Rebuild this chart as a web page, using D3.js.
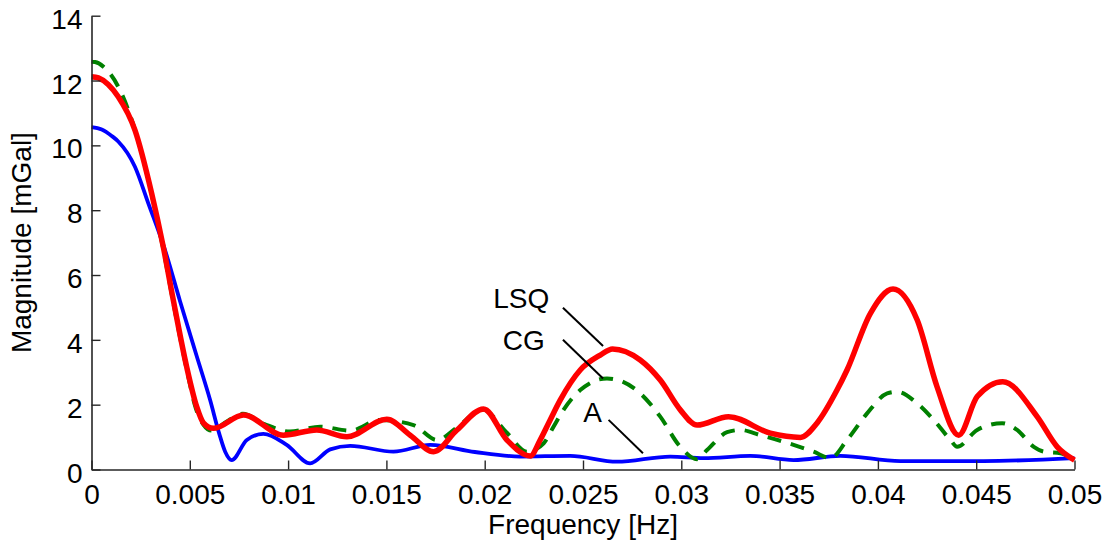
<!DOCTYPE html>
<html>
<head>
<meta charset="utf-8">
<script src="https://cdn.jsdelivr.net/npm/d3@7"></script>
<style>
  body { margin: 0; background: #fff; }
  svg text { font-family: "Liberation Sans", Arial, sans-serif; fill: #000; }
</style>
</head>
<body>
<svg id="chart"></svg>
<script>
// frequency [Hz] / magnitude [mGal]
const lsqFreq = [0, 0.00035, 0.00085, 0.00136, 0.00221, 0.00306, 0.00365, 0.00416, 0.00484, 0.00535, 0.00569, 0.0062,
  0.00773, 0.00976, 0.01146, 0.01299, 0.01502, 0.01621, 0.0174, 0.01859, 0.01994, 0.02113, 0.02232, 0.02282, 0.02333,
  0.02384, 0.02486, 0.02588, 0.0265, 0.02791, 0.02893, 0.02995, 0.0308, 0.0324, 0.03453, 0.03606, 0.0369,
  0.03792, 0.03843, 0.03962, 0.04077, 0.042, 0.04301, 0.04411, 0.04505, 0.04635, 0.0481, 0.04912, 0.05];
const lsqMag = [12.12, 12.08, 11.88, 11.5, 10.47, 8.52, 6.87, 5.23, 3.17, 1.94, 1.44, 1.27,
  1.68, 1.06, 1.22, 1.01, 1.55, 1.06, 0.55, 1.22, 1.87, 0.91, 0.42, 0.91, 1.53,
  2.14, 3.07, 3.53, 3.72, 3.38, 2.76, 1.84, 1.37, 1.63, 1.12, 0.99, 1.43,
  2.45, 3.07, 4.82, 5.57, 4.61, 2.55, 1.06, 2.25, 2.71, 1.63, 0.7, 0.29];

const cgFreq = [0, 0.00018, 0.0006, 0.00136, 0.00205, 0.00306, 0.00365, 0.00416, 0.00484, 0.0053, 0.0057, 0.0061,
  0.0068, 0.0077, 0.0088, 0.0101, 0.01163, 0.01316, 0.01468, 0.01638, 0.01757, 0.0186, 0.0199, 0.0211, 0.02215,
  0.023, 0.0235, 0.02401, 0.02486, 0.02622, 0.02791, 0.02893, 0.02995, 0.0308, 0.03131, 0.03233, 0.033, 0.03402,
  0.03571, 0.03673, 0.03758, 0.03843, 0.03945, 0.04047, 0.04098, 0.042, 0.04284, 0.04369, 0.04403, 0.04505, 0.04632,
  0.04708, 0.04793, 0.04844, 0.04929, 0.05];
const cgMag = [12.58, 12.57, 12.43, 11.81, 10.78, 8.5, 6.8, 5.15, 3.1, 1.9, 1.38, 1.2,
  1.45, 1.72, 1.4, 1.17, 1.32, 1.2, 1.53, 1.37, 0.91, 1.3, 1.85, 1.15, 0.55,
  0.81, 1.32, 1.84, 2.45, 2.81, 2.35, 1.63, 0.7, 0.32, 0.6, 1.15, 1.22, 1.06,
  0.76, 0.55, 0.35, 0.91, 1.73, 2.35, 2.4, 2.04, 1.53, 0.91, 0.7, 1.22, 1.43,
  1.22, 0.7, 0.55, 0.5, 0.35];

const aFreq = [0, 0.00052, 0.00103, 0.00136, 0.00221, 0.00289, 0.00374, 0.0045, 0.00535, 0.00603, 0.0065, 0.0068,
  0.00713, 0.0079, 0.00874, 0.00993, 0.01112, 0.01214, 0.01316, 0.01536, 0.01723, 0.0195, 0.0218, 0.02435, 0.02673,
  0.02944, 0.03114, 0.03351, 0.03571, 0.03809, 0.04114, 0.04538, 0.05];
const aMag = [10.56, 10.49, 10.29, 10.12, 9.34, 8.21, 6.77, 5.2, 3.5, 2.15, 1.1, 0.55,
  0.29, 0.91, 1.1, 0.76, 0.19, 0.62, 0.73, 0.55, 0.76, 0.54, 0.4, 0.42, 0.24,
  0.4, 0.35, 0.42, 0.29, 0.42, 0.26, 0.26, 0.35];

const xTicks = [0, 0.005, 0.01, 0.015, 0.02, 0.025, 0.03, 0.035, 0.04, 0.045, 0.05];
const yTicks = [0, 2, 4, 6, 8, 10, 12, 14];

// label text, text anchor, leader line start / end (data units)
const labelNames = ['LSQ', 'CG', 'A'];
const labelPos = [[0.02043, 4.98], [0.02092, 3.69], [0.02501, 1.47]];
const leaderFrom = [[0.02398, 4.99], [0.02398, 4.0], [0.0263, 1.53]];
const leaderTo = [[0.02602, 3.81], [0.02602, 2.81], [0.02805, 0.5]];

const width = 1110, height = 548;
const margin = { top: 15.7, right: 35.5, bottom: 78.5, left: 91.5 };
const fontSize = 28;

const svg = d3.select('#chart')
  .attr('width', width)
  .attr('height', height)
  .attr('viewBox', `0 0 ${width} ${height}`);

const x = d3.scaleLinear().domain([0, 0.05]).range([margin.left, width - margin.right]);
const y = d3.scaleLinear().domain([0, 14]).range([height - margin.bottom, margin.top]);

const line = d3.line()
  .x(d => x(d[0]))
  .y(d => y(d[1]))
  .curve(d3.curveMonotoneX);

const zip = (a, b) => a.map((v, i) => [v, b[i]]);

svg.append('path')
  .attr('d', line(zip(aFreq, aMag)))
  .attr('fill', 'none')
  .attr('stroke', '#0000ff')
  .attr('stroke-width', 3.8);

svg.append('path')
  .attr('d', line(zip(cgFreq, cgMag)))
  .attr('fill', 'none')
  .attr('stroke', '#008000')
  .attr('stroke-width', 4)
  .attr('stroke-dasharray', '14,10');

svg.append('path')
  .attr('d', line(zip(lsqFreq, lsqMag)))
  .attr('fill', 'none')
  .attr('stroke', '#ff0000')
  .attr('stroke-width', 5.5)
  .attr('stroke-linejoin', 'round');

// axes, ticks pointing inwards
const xAxis = d3.axisBottom(x)
  .tickValues(xTicks)
  .tickFormat(d => d3.format('')(+d.toFixed(3)))
  .tickSizeInner(-9)
  .tickSizeOuter(0)
  .tickPadding(15);

const yAxis = d3.axisLeft(y)
  .tickValues(yTicks)
  .tickFormat(d3.format('d'))
  .tickSizeInner(-9)
  .tickSizeOuter(0)
  .tickPadding(9);

const gx = svg.append('g')
  .attr('transform', `translate(0,${height - margin.bottom})`)
  .call(xAxis);

const gy = svg.append('g')
  .attr('transform', `translate(${margin.left},0)`)
  .call(yAxis);

[gx, gy].forEach(g => {
  g.select('.domain').attr('stroke', '#262626').attr('stroke-width', 1.6);
  g.selectAll('.tick line').attr('stroke', '#262626').attr('stroke-width', 1.4);
  g.selectAll('.tick text')
    .attr('fill', '#000')
    .style('font-size', fontSize + 'px')
    .style('font-family', '"Liberation Sans", Arial, sans-serif');
});
gy.selectAll('.tick text').attr('dy', '0.45em');

svg.append('text')
  .attr('x', (x.range()[0] + x.range()[1]) / 2)
  .attr('y', 534)
  .attr('text-anchor', 'middle')
  .style('font-size', fontSize + 'px')
  .text('Frequency [Hz]');

svg.append('text')
  .attr('transform', `translate(31,${(y.range()[0] + y.range()[1]) / 2}) rotate(-90)`)
  .attr('text-anchor', 'middle')
  .style('font-size', fontSize + 'px')
  .text('Magnitude [mGal]');

// curve labels with leader lines
labelNames.forEach((name, i) => {
  svg.append('line')
    .attr('x1', x(leaderFrom[i][0]))
    .attr('y1', y(leaderFrom[i][1]))
    .attr('x2', x(leaderTo[i][0]))
    .attr('y2', y(leaderTo[i][1]))
    .attr('stroke', '#000')
    .attr('stroke-width', 2);

  svg.append('text')
    .attr('x', x(labelPos[i][0]))
    .attr('y', y(labelPos[i][1]))
    .style('font-size', fontSize + 'px')
    .text(name);
});
</script>
</body>
</html>
